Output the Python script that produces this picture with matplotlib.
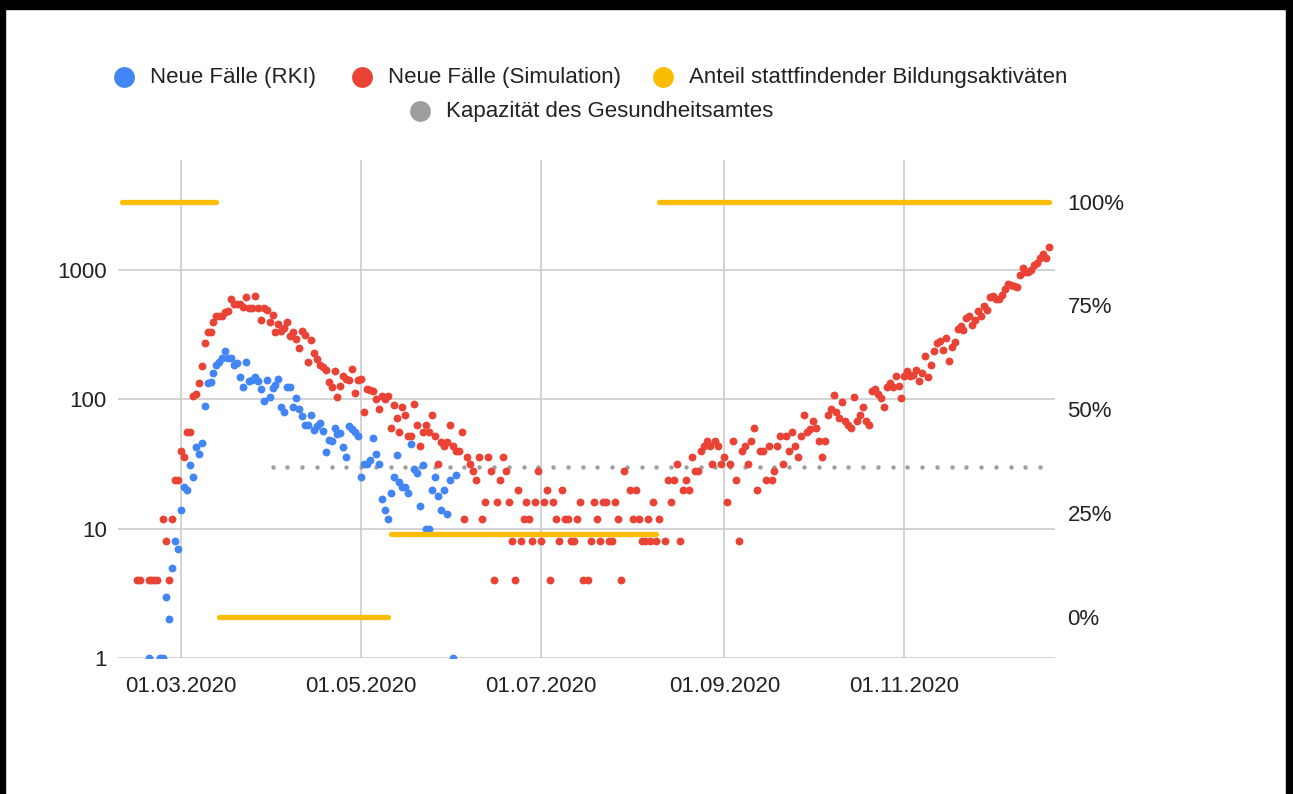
import matplotlib.pyplot as plt
import numpy as np
import pandas as pd
from matplotlib.patches import Rectangle
from matplotlib.ticker import FixedLocator, NullLocator

plt.rcParams["font.family"] = ["Liberation Sans", "DejaVu Sans"]

W, H = 1293, 794

# daily new cases from the simulation, starting 15.02.2020 (None = no point)
sim_start = "2020-02-15"
sim_cases = [
    4, 4, None, None, 4, 4, 4, 4, None, 12, 8, 4, 12, 24, 24,          # 15.02.-29.02.
    40, 36, 56, 56, 106, 110, 134, 181, 272, 330, 330, 394, 440, 440, 440,
    477, 480, 595, 545, 545, 545, 520, 615, 510, 505, 635, 505, 410, 505, 492, 400,  # March
    450, 330, 385, 340, 360, 400, 310, 333, 295, 250, 340, 313, 195, 290, 230,
    205, 185, 178, 170, 137, 125, 166, 104, 128, 151, 144, 142, 172, 112, 142,       # April
    145, 80, 121, 119, 116, 100, 84, 107, 101, 107, 60, 91, 72, 56, 88, 76,
    52, 52, 92, 64, 44, 56, 64, 56, 76, 52, 32, 47, 44, 47, 64,                      # May
    44, 40, 40, 56, 12, 36, 32, 28, 24, 36, 12, 16, 36, 28, 4,
    16, 24, 36, 28, 16, 8, 4, 20, 8, 12, 16, 12, 8, 16, 28,                          # June
    8, 16, 20, 4, 16, 12, 8, 20, 12, 12, 8, 8, 12, 16, 4, None,
    4, 8, 16, 12, 8, 16, 16, 8, 8, 16, 12, 4, 28, None, 20,                          # July
    12, 20, 12, 8, 8, 12, 8, 16, 8, 12, None, 8, 24, 16, 24, 32,
    8, 20, 24, 20, 36, 28, 28, 40, 44, 48, 44, 32, 48, 44, 32,                       # August
    36, 16, 32, 48, 24, 8, 40, 44, 32, 48, 60, 20, 40, 40, 24,
    44, 24, 28, 44, 52, 32, 52, 40, 56, 44, 36, 52, 76, 56, 59,                      # September
    68, 60, 48, 36, 48, 76, 84, 108, 80, 72, 96, 68, 64, 60, 104, 68,
    76, 88, 68, 64, 117, 121, 110, 103, 88, 126, 134, 125, 151, 128, 103,            # October
    153, 166, 153, 156, 170, 139, 161, 216, 148, 184, 237, 272, 283, 243, 300,
    200, 256, 277, 350, 370, 345, 430, 442, 375, 410, 485, 442, 530, 490, 615,       # November
    635, 595, 600, 640, 720, 780, 765, 750, 735, 915, 1040, 970, 960, 1000, 1090,
    1140, 1230, 1320, 1230, 1500,                                                    # December
]

# daily new cases reported by the RKI, starting 19.02.2020
rki_start = "2020-02-19"
rki_cases = [
    1, None, None, None, 1, 1, 3, 2, 5, 8, 7,
    14, 21, 20, 31, 25, 43, 38, 46, 89, 134, 136, 161, 186, 195, 210,
    237, 210, 210, 186, 192, 150, 126, 195, 139, 142, 150, 139, 121, 97, 141,
    105, 123, 130, 144, 88, 80, 125, 125, 88, 103, 85, 75, 63, 63, 76,
    58, 62, 66, 57, 39, 49, 48, 60, 54, 55, 43, 36, 62, 59, 56, 52,
    25, 32, 32, 34, 50, 38, 32, 17, 14, 12, 19, 25, 37, 23, 21,
    21, 19, 45, 29, 27, 15, 31, 10, 10, 20, 25, 18, 14, 20, 13, 24, 1, 26,
]

# share of educational activities taking place: (from, to, percent)
edu_periods = [
    ("2020-02-10", "2020-03-13", 100),
    ("2020-03-14", "2020-05-10", 0),
    ("2020-05-11", "2020-08-09", 20),
    ("2020-08-10", "2020-12-20", 100),
]

# capacity of the health office (cases per day), plotted every 5 days
capacity = 30
capacity_dates = pd.date_range("2020-04-01", "2020-12-17", freq="5D")

date_ticks = ["2020-03-01", "2020-05-01", "2020-07-01", "2020-09-01", "2020-11-01"]
date_labels = ["01.03.2020", "01.05.2020", "01.07.2020", "01.09.2020", "01.11.2020"]
case_ticks = [1, 10, 100, 1000]
pct_ticks = [0, 25, 50, 75, 100]

BLUE = "#4285F4"
RED = "#EA4335"
YELLOW = "#FBBC04"
GRAY = "#9E9E9E"
TEXT = "#222222"
GRID = "#CCCCCC"

fig = plt.figure(figsize=(W / 100, H / 100), dpi=100)
ax = fig.add_axes([118 / W, 1 - 658.3 / H, (1055 - 118) / W, (658.3 - 160) / H])

sim_dates = pd.date_range(sim_start, periods=len(sim_cases))
rki_dates = pd.date_range(rki_start, periods=len(rki_cases))
sim_vals = np.array(sim_cases, dtype=float)
rki_vals = np.array(rki_cases, dtype=float)

ax.scatter(capacity_dates, np.full(len(capacity_dates), capacity), s=10, color=GRAY,
           linewidths=0, zorder=2)
ax.scatter(rki_dates, rki_vals, s=32, color=BLUE, linewidths=0, zorder=3)
ax.scatter(sim_dates, sim_vals, s=32, color=RED, linewidths=0, zorder=4)

ax.set_yscale("log")
ax.set_ylim(1, 10 ** ((658.3 - 160) / 129.4))
ax.set_xlim(pd.Timestamp("2020-02-08 16:00"), pd.Timestamp("2020-12-22"))
ax.set_xticks(pd.to_datetime(date_ticks))
ax.set_xticklabels(date_labels)
ax.yaxis.set_major_locator(FixedLocator(case_ticks))
ax.yaxis.set_minor_locator(NullLocator())
ax.set_yticklabels([str(t) for t in case_ticks])
ax.grid(True, color=GRID, linewidth=1.2)
ax.set_axisbelow(True)
ax.tick_params(length=0, labelsize=16, labelcolor=TEXT)
ax.tick_params(axis="x", pad=13)
ax.tick_params(axis="y", pad=8)

ax2 = ax.twinx()
for start, end, pct in edu_periods:
    ax2.plot(pd.to_datetime([start, end]), [pct, pct], color=YELLOW, lw=3.8,
             solid_capstyle="round")
ax2.set_ylim(-10, 110)
ax2.set_yticks(pct_ticks)
ax2.set_yticklabels([f"{p}%" for p in pct_ticks])
ax2.tick_params(length=0, labelsize=16, labelcolor=TEXT, pad=9)

for a in (ax, ax2):
    for s in a.spines.values():
        s.set_visible(False)

# legend, centred rows as in the original
lax = fig.add_axes([0, 0, 1, 1], zorder=10)
lax.set_xlim(0, W)
lax.set_ylim(H, 0)
lax.axis("off")
legend_items = [
    (124, 77, BLUE, "Neue Fälle (RKI)"),
    (362, 77, RED, "Neue Fälle (Simulation)"),
    (663, 77, YELLOW, "Anteil stattfindender Bildungsaktiväten"),
    (420, 111, GRAY, "Kapazität des Gesundheitsamtes"),
]
for x, y, c, label in legend_items:
    lax.plot([x], [y], "o", ms=15, color=c, mec="none")
    lax.text(x + 26, y, label, fontsize=16, color=TEXT, va="center", ha="left")

# black frame of the screenshot
lax.add_patch(Rectangle((0, 0), W, 9, color="black"))
lax.add_patch(Rectangle((0, 0), 5, H, color="black"))
lax.add_patch(Rectangle((W - 7, 0), 7, H, color="black"))

fig.savefig("out.png", dpi=100)
